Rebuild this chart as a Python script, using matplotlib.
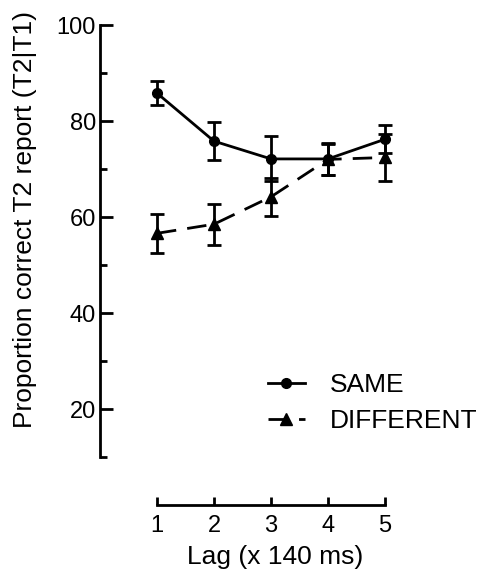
import matplotlib
matplotlib.use("Agg")
import matplotlib.pyplot as plt

plt.rcParams['font.family'] = ['Liberation Sans', 'DejaVu Sans']
plt.rcParams['lines.scale_dashes'] = False

lags = [1, 2, 3, 4, 5]
same = [85.8, 75.8, 72.1, 72.1, 76.2]
same_err = [2.5, 3.9, 4.7, 3.4, 2.9]
diff = [56.6, 58.5, 64.2, 72.0, 72.4]
diff_err = [4.1, 4.3, 3.9, 3.2, 4.8]
yticks = [20, 40, 60, 80, 100]
yminor = [10, 30, 50, 70, 90]

fig = plt.figure(figsize=(4.81, 5.79), dpi=100)
ax = fig.add_axes([100/481, 74/579, 370/481, 480/579])

ax.errorbar(lags, same, yerr=same_err, color='black', lw=2, marker='o', ms=7,
            capsize=5, capthick=2, elinewidth=2, label='SAME')
ax.errorbar(lags, diff, yerr=diff_err, color='black', lw=2, marker='^', ms=8.5,
            capsize=5, capthick=2, elinewidth=2, dashes=(14, 8), label='DIFFERENT')

ax.set_xlim(0, 370/57)
ax.set_ylim(0, 100)
ax.spines['top'].set_visible(False)
ax.spines['right'].set_visible(False)
ax.spines['left'].set_bounds(10, 100)
ax.spines['bottom'].set_bounds(1, 5)
ax.spines['left'].set_linewidth(2)
ax.spines['bottom'].set_linewidth(2)

ax.set_xticks(lags)
ax.set_yticks(yticks)
ax.set_yticks(yminor, minor=True)
ax.tick_params(axis='both', direction='in', width=2, length=9, labelsize=17)
ax.tick_params(axis='y', pad=3)
ax.tick_params(axis='x', length=6, pad=7)
ax.tick_params(axis='y', which='minor', direction='in', width=2, length=5)

ax.set_xlabel('Lag (x 140 ms)', fontsize=19)
ax.xaxis.set_label_coords(175/370, -40/480)
ax.set_ylabel('Proportion correct T2 report (T2|T1)', fontsize=19)
ax.yaxis.set_label_coords(-63/370, 285/480)

handles, labels = ax.get_legend_handles_labels()
handles = [h[0] for h in handles]
ax.legend(handles, labels, loc='upper left', bbox_to_anchor=(0.454, 0.275), frameon=False,
          fontsize=19, handlelength=1.4, handletextpad=0.95, labelspacing=0.45,
          borderaxespad=0, borderpad=0)

fig.savefig('out.png', dpi=100)
